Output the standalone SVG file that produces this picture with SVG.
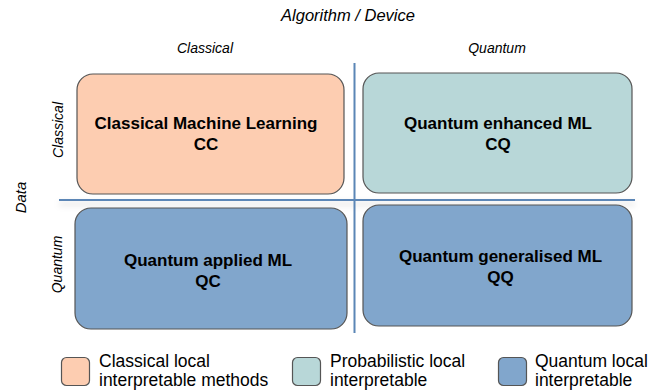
<svg xmlns="http://www.w3.org/2000/svg" width="662" height="392" viewBox="0 0 662 392">
<style>
.box{stroke:#555;stroke-width:1.2}
.cc{fill:#fdcdb1}
.cq{fill:#b8d7d8}
.qq{fill:#81a6cc}
.t{font-family:"Liberation Sans",Arial,sans-serif;font-weight:bold;font-size:17px;fill:#000;text-anchor:middle}
.ax{font-family:"Liberation Sans",Arial,sans-serif;font-style:italic;fill:#000;text-anchor:middle}
.lg{font-family:"Liberation Sans",Arial,sans-serif;font-size:17.5px;fill:#000}
.axis{stroke:#5b86b6;stroke-width:2;fill:none}
</style>
<defs>
<filter id="sh" filterUnits="userSpaceOnUse" x="40" y="185" width="620" height="35">
<feDropShadow dx="0" dy="4" stdDeviation="3" flood-color="#000" flood-opacity="0.18"/>
</filter>
</defs>
<rect width="662" height="392" fill="#fff"/>
<text class="ax" x="348" y="21" font-size="16.5">Algorithm / Device</text>
<text class="ax" x="205" y="53" font-size="14">Classical</text>
<text class="ax" x="497" y="53" font-size="14">Quantum</text>
<text class="ax" font-size="15" transform="translate(26,197.5) rotate(-90)">Data</text>
<text class="ax" font-size="14" transform="translate(62.5,130) rotate(-90)">Classical</text>
<text class="ax" font-size="14" transform="translate(62,264.5) rotate(-90)">Quantum</text>
<g id="connectors">
<line class="axis" x1="59" y1="200" x2="635" y2="200" filter="url(#sh)"/>
<line class="axis" x1="354.5" y1="63" x2="354.5" y2="333"/>
</g>
<g id="CC">
<rect class="box cc" x="77" y="74" width="267" height="120" rx="16"/>
<text class="t" x="206" y="129">Classical Machine Learning</text>
<text class="t" x="206" y="150">CC</text>
</g>
<g id="CQ">
<rect class="box cq" x="363" y="73" width="269" height="120" rx="16"/>
<text class="t" x="498" y="129">Quantum enhanced ML</text>
<text class="t" x="498" y="150">CQ</text>
</g>
<g id="QC">
<rect class="box qq" x="75" y="208" width="272" height="121" rx="16"/>
<text class="t" x="208" y="266">Quantum applied ML</text>
<text class="t" x="208" y="287">QC</text>
</g>
<g id="QQ">
<rect class="box qq" x="363" y="205" width="269" height="121" rx="16"/>
<text class="t" x="500.5" y="262">Quantum generalised ML</text>
<text class="t" x="500.5" y="283">QQ</text>
</g>
<g id="legend">
<rect class="box cc" x="61.5" y="357.5" width="28" height="28" rx="5"/>
<text class="lg" x="99" y="367">Classical local</text>
<text class="lg" x="99" y="386">interpretable methods</text>
<rect class="box cq" x="292.5" y="357.5" width="28" height="28" rx="5"/>
<text class="lg" x="330" y="367">Probabilistic local</text>
<text class="lg" x="330" y="386">interpretable</text>
<rect class="box qq" x="498.5" y="357.5" width="28" height="28" rx="5"/>
<text class="lg" x="535" y="367">Quantum local</text>
<text class="lg" x="535" y="386">interpretable</text>
</g>
</svg>
